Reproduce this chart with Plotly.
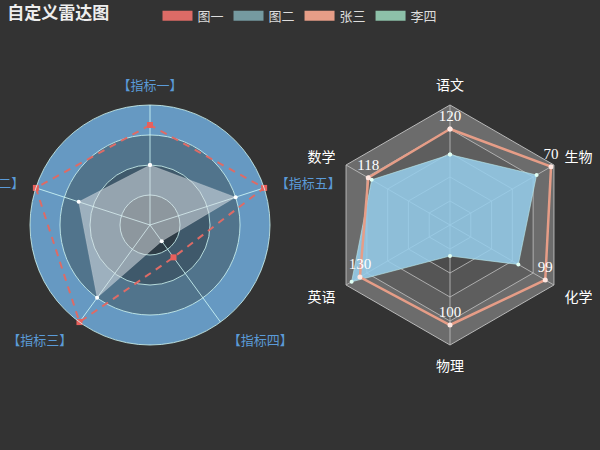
import plotly.graph_objects as go

# ---------------- data ----------------
left_indicators = ["指标一", "指标二", "指标三", "指标四", "指标五"]
left_min = [0, 0, 0, -120, 0]
left_max = [120, 8, 0.4, 0, 2000]
fig1_values = [100, 8, 0.4, -80, 2000]   # 图一
fig2_values = [60, 5, 0.3, -100, 1500]   # 图二

right_indicators = ["语文", "数学", "英语", "物理", "化学", "生物"]
right_max = [150, 150, 150, 120, 108, 72]
zhang_values = [120, 118, 130, 100, 99, 70]   # 张三
li_values = [88, 113, 142, 31, 71, 60]        # 李四

left_ring_edges = [0, 0.25, 0.5, 0.75, 1.0]
left_ring_colors = ["#2e3c46", "#3f596b", "#51748c", "#6699c2"]
right_band_levels = [1.0, 0.8, 0.6, 0.4, 0.2]
right_band_colors = ["#6c6c6c", "#5e5e5e", "#555555", "#4c4c4c", "#464646"]

series_colors = {"图一": "#dd6b66", "图二": "#759aa0", "张三": "#e69d87", "李四": "#8dc1a9"}

BG = "#333333"
LEFT_LABEL = "#5b9bd8"


def close(lst):
    return list(lst) + [lst[0]]


def norm_left(vals):
    return [(v - lo) / (hi - lo) for v, lo, hi in zip(vals, left_min, left_max)]


def norm_right(vals):
    return [v / m for v, m in zip(vals, right_max)]


fig = go.Figure()

# ---------- left: ring background (polar) ----------
fig.add_trace(go.Barpolar(
    r=[left_ring_edges[i + 1] - left_ring_edges[i] for i in range(4)],
    base=left_ring_edges[:4],
    theta=[180] * 4, width=[360] * 4,
    marker=dict(color=left_ring_colors, line=dict(width=0)),
    subplot="polar", showlegend=False, hoverinfo="skip"))

# ---------- left: series (polar2) ----------
lt = close(left_indicators)
fig.add_trace(go.Scatterpolar(
    r=close(norm_left(fig2_values)), theta=lt, subplot="polar2",
    mode="lines+markers", fill="toself", fillcolor="rgba(220,226,232,0.55)",
    line=dict(color="rgba(255,255,255,0.35)", width=0.5),
    marker=dict(color="#ffffff", size=4),
    name="图二", legendgroup="图二", showlegend=False, hoverinfo="skip"))
fig.add_trace(go.Scatterpolar(
    r=close(norm_left(fig1_values)), theta=lt, subplot="polar2",
    mode="lines+markers",
    line=dict(color="#dd6b66", width=2, dash="7px,6px"),
    marker=dict(color="#e8605c", size=6, symbol="square"),
    name="图一", legendgroup="图一", showlegend=False, hoverinfo="skip"))

# ---------- right: band background (polar3) ----------
rt = close(right_indicators)
for lvl, col in zip(right_band_levels, right_band_colors):
    fig.add_trace(go.Scatterpolar(
        r=[lvl] * 7, theta=rt, subplot="polar3", mode="lines",
        fill="toself", fillcolor=col, line=dict(width=0, color=col),
        showlegend=False, hoverinfo="skip"))

# ---------- right: series (polar4) ----------
fig.add_trace(go.Scatterpolar(
    r=close(norm_right(li_values)), theta=rt, subplot="polar4",
    mode="lines+markers", fill="toself", fillcolor="rgba(150,205,235,0.88)",
    line=dict(color="rgba(190,235,235,0.6)", width=1),
    marker=dict(color="#e0fff4", size=4),
    name="李四", legendgroup="李四", showlegend=False, hoverinfo="skip"))
fig.add_trace(go.Scatterpolar(
    r=close(norm_right(zhang_values)), theta=rt, subplot="polar4",
    mode="lines+markers+text",
    text=[str(v) for v in zhang_values] + [""],
    textposition="top center",
    textfont=dict(color="#ffffff", size=15, family="Liberation Serif"),
    line=dict(color="#e69d87", width=2.5),
    marker=dict(color="#ffe6e0", size=5),
    cliponaxis=False,
    name="张三", legendgroup="张三", showlegend=False, hoverinfo="skip"))

# ---------- legend entries ----------
for name, col in series_colors.items():
    fig.add_trace(go.Scatterpolar(
        r=[None], theta=[None], subplot="polar4", mode="lines",
        line=dict(color=col, width=14),
        name=name, legendgroup=name, showlegend=True))

# ---------- layout ----------
left_dom = dict(x=[0.05, 0.45], y=[0.5 - 120 / 450, 0.5 + 120 / 450])
right_dom = dict(x=[0.55, 0.95], y=[0.5 - 120 / 450, 0.5 + 120 / 450])

hidden_radial = dict(range=[0, 1], showticklabels=False, ticks="", showline=False,
                     showgrid=False)
hidden_ang = dict(showticklabels=False, ticks="", showline=False, showgrid=False)

LGRID = "rgba(211,253,250,0.8)"
RGRID = "rgba(200,200,200,0.75)"

fig.update_layout(
    width=600, height=450,
    paper_bgcolor=BG, plot_bgcolor=BG,
    margin=dict(l=0, r=0, t=0, b=0),
    title=dict(text="<b>自定义雷达图</b>", x=0.012, xanchor="left", y=0.971,
               yanchor="middle", font=dict(color="#eeeeee", size=17,
                                           family="Noto Sans CJK SC")),
    legend=dict(orientation="h", x=0.5, xanchor="center", y=0.998, yanchor="top",
                font=dict(color="#dddddd", size=13, family="Noto Sans CJK SC"),
                bgcolor="rgba(0,0,0,0)", itemwidth=30),
    polar=dict(domain=left_dom, bgcolor="rgba(0,0,0,0)",
               radialaxis=hidden_radial, angularaxis=hidden_ang),
    polar2=dict(domain=left_dom, bgcolor="rgba(0,0,0,0)",
                radialaxis=dict(range=[0, 1], showticklabels=False, ticks="",
                                showline=False, showgrid=True, gridcolor=LGRID,
                                gridwidth=1, tickvals=[0.25, 0.5, 0.75]),
                angularaxis=dict(type="category", categoryarray=left_indicators,
                                 rotation=90, direction="counterclockwise",
                                 tickmode="array", tickvals=left_indicators,
                                 ticktext=["【" + t + "】" for t in left_indicators],
                                 tickfont=dict(color=LEFT_LABEL, size=13,
                                               family="Noto Sans CJK SC"),
                                 showticklabels=True, ticks="outside", ticklen=9,
                                 tickcolor="rgba(0,0,0,0)", showline=True,
                                 linecolor=LGRID, linewidth=1, showgrid=True,
                                 gridcolor=LGRID, gridwidth=1)),
    polar3=dict(domain=right_dom, bgcolor="rgba(0,0,0,0)", gridshape="linear",
                radialaxis=hidden_radial,
                angularaxis=dict(type="category", categoryarray=right_indicators,
                                 rotation=90, direction="counterclockwise",
                                 showticklabels=False, ticks="", showline=False,
                                 showgrid=False)),
    polar4=dict(domain=right_dom, bgcolor="rgba(0,0,0,0)", gridshape="linear",
                radialaxis=dict(range=[0, 1], showticklabels=False, ticks="",
                                showline=False, showgrid=True, gridcolor=RGRID,
                                gridwidth=1, tickvals=[0.2, 0.4, 0.6, 0.8]),
                angularaxis=dict(type="category", categoryarray=right_indicators,
                                 rotation=90, direction="counterclockwise",
                                 tickfont=dict(color="#ffffff", size=14,
                                               family="Noto Sans CJK SC"),
                                 showticklabels=True, ticks="outside", ticklen=9,
                                 tickcolor="rgba(0,0,0,0)", showline=True,
                                 linecolor="#bbbbbb", linewidth=1, showgrid=True,
                                 gridcolor=RGRID, gridwidth=1)),
)

fig.write_html("out.html")
